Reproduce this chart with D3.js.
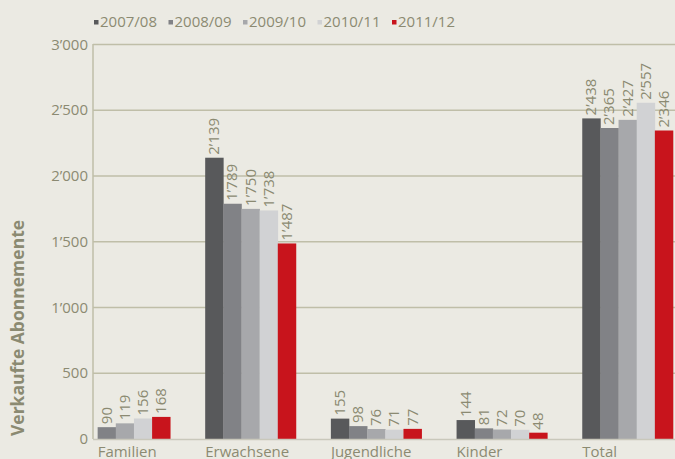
<!DOCTYPE html>
<html>
<head>
<meta charset="utf-8">
<script src="https://cdn.jsdelivr.net/npm/d3@7"></script>
<style>
  body { margin: 0; background: #ebeae3; }
  svg { display: block; font-family: "Open Sans", sans-serif; }
</style>
</head>
<body>
<div id="chart"></div>
<script>
const FRAME_WIDTH = 675;
const FRAME_HEIGHT = 459;

// data
const categories = ["Familien", "Erwachsene", "Jugendliche", "Kinder", "Total"];
const seasons = ["2007/08", "2008/09", "2009/10", "2010/11", "2011/12"];
const s0708 = [null, 2139, 155, 144, 2438];
const s0809 = [90, 1789, 98, 81, 2365];
const s0910 = [119, 1750, 76, 72, 2427];
const s1011 = [156, 1738, 71, 70, 2557];
const s1112 = [168, 1487, 77, 48, 2346];
const yTicks = [0, 500, 1000, 1500, 2000, 2500, 3000];
const colors = ["#58595b", "#818286", "#a7a8ab", "#d1d2d4", "#c8141c"];

const series = [s0708, s0809, s0910, s1011, s1112];

const TEXT = "#8b8a72";
const GRID = "#bfbea8";

const svg = d3.select("#chart").append("svg")
  .attr("width", FRAME_WIDTH)
  .attr("height", FRAME_HEIGHT);

const Y_SCALE = d3.scaleLinear().domain([0, 3000]).range([439, 44.5]);
const X0 = d3.scaleBand().domain(categories).range([79.5, 673])
  .paddingInner(0.278).paddingOuter(0);
const X1 = d3.scaleBand().domain(seasons).range([0, X0.bandwidth()]);

const fmt = v => d3.format(",")(v).replace(/,/g, "\u2019");

// grid
svg.append("g").selectAll("line")
  .data(yTicks.filter(t => t > 0))
  .enter().append("line")
    .attr("x1", 93).attr("x2", FRAME_WIDTH)
    .attr("y1", d => Y_SCALE(d)).attr("y2", d => Y_SCALE(d))
    .attr("stroke", GRID).attr("stroke-width", 1.5);

// y tick labels
svg.append("g").selectAll("text")
  .data(yTicks)
  .enter().append("text")
    .attr("x", 88)
    .attr("y", d => Y_SCALE(d) + 5)
    .attr("text-anchor", "end")
    .attr("fill", TEXT)
    .attr("font-size", "15px")
    .text(d => fmt(d));

// bars
const groups = svg.append("g").selectAll("g")
  .data(categories)
  .enter().append("g")
    .attr("transform", d => "translate(" + X0(d) + ",0)");

groups.each(function(cat, ci) {
  const g = d3.select(this);
  const vals = seasons.map((s, si) => ({s: s, si: si, v: series[si][ci]}))
    .filter(d => d.v !== null);
  g.selectAll("rect").data(vals).enter().append("rect")
    .attr("x", d => X1(d.s))
    .attr("y", d => Y_SCALE(d.v))
    .attr("width", X1.bandwidth() + 0.3)
    .attr("height", d => Y_SCALE(0) - Y_SCALE(d.v))
    .attr("fill", d => colors[d.si]);
  g.selectAll("text.val").data(vals).enter().append("text")
    .attr("class", "val")
    .attr("transform", d => "translate(" + (X1(d.s) + X1.bandwidth() / 2 + 5) +
          "," + (Y_SCALE(d.v) - 3) + ") rotate(-90)")
    .attr("fill", TEXT)
    .attr("font-size", "15px")
    .text(d => fmt(d.v));
  g.append("text")
    .attr("x", vals.length ? X1(vals[0].s) : 0)
    .attr("y", 457)
    .attr("fill", TEXT)
    .attr("font-size", "15px")
    .text(cat);
});

// axes lines
svg.append("line")
  .attr("x1", 93).attr("x2", 93)
  .attr("y1", Y_SCALE(3000) - 0.5).attr("y2", Y_SCALE(0))
  .attr("stroke", GRID).attr("stroke-width", 1.5);
svg.append("line")
  .attr("x1", 93).attr("x2", FRAME_WIDTH)
  .attr("y1", Y_SCALE(0) + 0.5).attr("y2", Y_SCALE(0) + 0.5)
  .attr("stroke", "#c9c8bb").attr("stroke-width", 1.5);

// legend
const legend = svg.append("g").selectAll("g")
  .data(seasons)
  .enter().append("g")
    .attr("transform", (d, i) => "translate(" + (94 + i * 74.5) + ",0)");
legend.append("rect")
  .attr("x", 0).attr("y", 20)
  .attr("width", 4.5).attr("height", 4.5)
  .attr("fill", (d, i) => colors[i]);
legend.append("text")
  .attr("x", 6).attr("y", 27)
  .attr("fill", TEXT)
  .attr("font-size", "15px")
  .text(d => d);

// y-axis title
svg.append("text")
  .attr("transform", "rotate(-90)")
  .attr("x", -328)
  .attr("y", 24)
  .attr("text-anchor", "middle")
  .attr("fill", TEXT)
  .attr("font-size", "17.5px")
  .attr("font-weight", "bold")
  .text("Verkaufte Abonnemente");
</script>
</body>
</html>
